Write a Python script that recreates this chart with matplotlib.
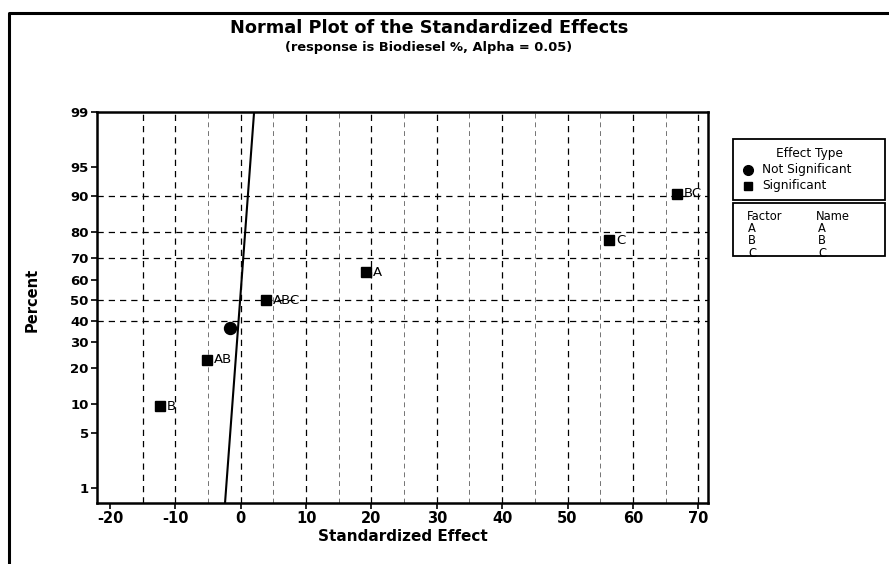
import matplotlib
matplotlib.use("Agg")
import matplotlib.pyplot as plt
from matplotlib.patches import Rectangle
from matplotlib.lines import Line2D
from statistics import NormalDist

# Standardized effects and their normal-plot percentiles
terms = ["B", "AB", "", "ABC", "A", "C", "BC"]
effects = [-12.4, -5.1, -1.7, 3.8, 19.1, 56.4, 66.8]
percents = [9.46, 22.97, 36.49, 50.0, 63.51, 77.03, 90.54]
significant = [True, True, False, True, True, True, True]

# Reference line (effects expected from noise only)
line_center = -0.1
line_sigma = 0.92

x_ticks = [-20, -10, 0, 10, 20, 30, 40, 50, 60, 70]
y_ticks = [1, 5, 10, 20, 30, 40, 50, 60, 70, 80, 90, 95, 99]
y_grid = [40, 50, 70, 80, 90]

factors = ["A", "B", "C"]
names = ["A", "B", "C"]

nd = NormalDist()
z = lambda p: nd.inv_cdf(p / 100.0)

W, H = 889, 564
fig = plt.figure(figsize=(W / 100, H / 100), dpi=100)
fig.patch.set_facecolor("white")

def fx(px):
    return px / W

def fy(py):
    return 1 - py / H

ax = fig.add_axes([fx(97), fy(503), fx(708) - fx(97), fy(112) - fy(503)])
ax.set_xlim(-22, 71.5)
ax.set_ylim(-2.51, z(99))

# grid
for gx in range(-15, 71, 5):
    major = gx % 10 == 0 or gx == -15
    ax.axvline(gx, color="black" if major else "0.45", lw=0.9 if major else 0.7,
               ls=(0, (5, 4)), zorder=1)
for gp in y_grid:
    ax.axhline(z(gp), color="black", lw=0.9, ls=(0, (5, 4)), zorder=1)

# reference line
zlo, zhi = ax.get_ylim()
ax.plot([line_center + line_sigma * zlo, line_center + line_sigma * zhi], [zlo, zhi],
        color="black", lw=1.5, zorder=2)

# points
for t, e, p, s in zip(terms, effects, percents, significant):
    ax.plot(e, z(p), marker="s" if s else "o", ms=7.2 if s else 8.6,
            color="black", mec="black", ls="none", zorder=3)
    if t:
        ax.annotate(t, (e, z(p)), xytext=(5, 0), textcoords="offset points",
                    ha="left", va="center", fontsize=9.5, color="black")

ax.set_xticks(x_ticks)
ax.set_xticklabels([f"{v}" for v in x_ticks], fontsize=10.5, fontweight="bold")
ax.set_yticks([z(v) for v in y_ticks])
ax.set_yticklabels([str(v) for v in y_ticks], fontsize=9.5, fontweight="bold")
ax.tick_params(direction="out", length=4, width=1.2, pad=2)
for sp in ax.spines.values():
    sp.set_linewidth(1.8)

ax.set_xlabel("Standardized Effect", fontsize=11, fontweight="bold", labelpad=2)
fig.text(fx(32), fy(300), "Percent", rotation=90, ha="center", va="center",
         fontsize=10.5, fontweight="bold")

fig.text(fx(429), fy(28), "Normal Plot of the Standardized Effects",
         ha="center", va="center", fontsize=12.8, fontweight="bold")
fig.text(fx(429), fy(48), "(response is Biodiesel %, Alpha = 0.05)",
         ha="center", va="center", fontsize=9.4, fontweight="bold")

# legend boxes
fig.patches.append(Rectangle((fx(733), fy(200)), fx(885) - fx(733), fy(139) - fy(200),
                             transform=fig.transFigure, fill=False, ec="black", lw=1.3))
fig.patches.append(Rectangle((fx(733), fy(256)), fx(885) - fx(733), fy(203) - fy(256),
                             transform=fig.transFigure, fill=False, ec="black", lw=1.3))
fig.text(fx(809), fy(154), "Effect Type", ha="center", va="center", fontsize=8.7)
fig.lines.append(Line2D([fx(748)], [fy(170)], marker="o", ms=7, color="black",
                        transform=fig.transFigure))
fig.text(fx(762), fy(170), "Not Significant", ha="left", va="center", fontsize=8.7)
fig.lines.append(Line2D([fx(748)], [fy(186)], marker="s", ms=6, color="black",
                        transform=fig.transFigure))
fig.text(fx(762), fy(186), "Significant", ha="left", va="center", fontsize=8.7)

fig.text(fx(747), fy(216), "Factor", ha="left", va="center", fontsize=8.3)
fig.text(fx(816), fy(216), "Name", ha="left", va="center", fontsize=8.3)
for i, (f, n) in enumerate(zip(factors, names)):
    yy = 229 + 12 * i
    fig.text(fx(748), fy(yy), f, ha="left", va="center", fontsize=8.3)
    fig.text(fx(818), fy(yy), n, ha="left", va="center", fontsize=8.3)

# outer frame
fig.lines.append(Line2D([fx(9), fx(9), fx(889)], [0, fy(13), fy(13)],
                        color="black", lw=2.2, transform=fig.transFigure))

fig.savefig("out.png", dpi=100)
